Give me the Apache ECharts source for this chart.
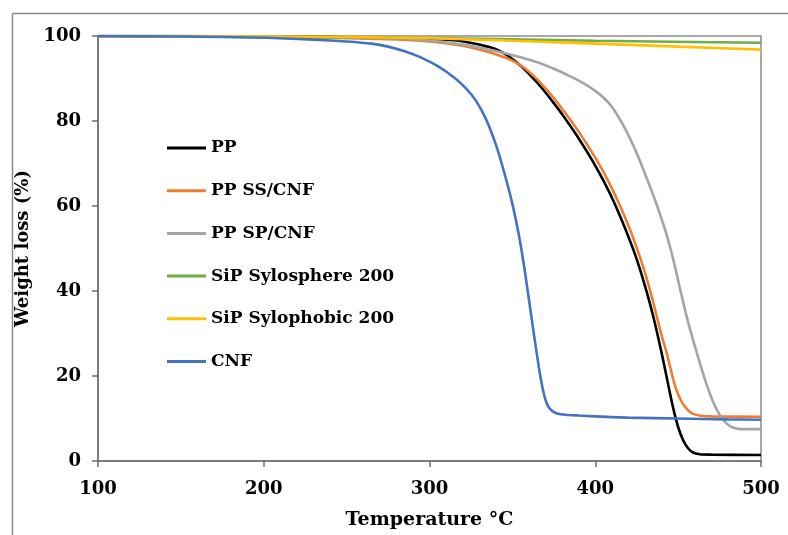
<!DOCTYPE html>
<html>
<head>
<meta charset="utf-8">
<title>TGA curves</title>
<script src="https://cdn.jsdelivr.net/npm/echarts@6/dist/echarts.min.js"></script>
<style>
  html, body { margin: 0; padding: 0; background: #ffffff; }
  #chart { width: 788px; height: 535px; }
</style>
</head>
<body>
<div id="chart"></div>
<script>
// Thermogravimetric curves: temperature (°C) against remaining weight (%)
const seriesNames = ['PP', 'PP SS/CNF', 'PP SP/CNF', 'SiP Sylosphere 200', 'SiP Sylophobic 200', 'CNF'];
const seriesColors = ['#000000', '#ED7D31', '#A5A5A5', '#70AD47', '#FFC000', '#4472C4'];

const xTicks = [100, 200, 300, 400, 500];
const yTicks = [0, 20, 40, 60, 80, 100];

const ppTemp   = [100, 200, 280, 300, 315, 322, 330, 335, 340, 345, 350, 355, 360, 365, 370, 375, 380, 385, 390, 395, 400, 405, 410, 415, 420, 425, 430, 435, 440, 444, 447, 450, 453, 456, 459, 463, 470, 500];
const ppWeight = [100, 99.9, 99.5, 99.3, 99.0, 98.6, 98.0, 97.5, 96.9, 95.9, 94.6, 93.0, 91.1, 89.0, 86.7, 84.2, 81.6, 78.8, 75.9, 72.8, 69.5, 65.9, 62.0, 57.6, 52.8, 47.5, 41.2, 34.0, 25.5, 18.0, 12.5, 8.0, 4.9, 3.0, 2.0, 1.6, 1.5, 1.4];

const ssTemp   = [100, 200, 280, 300, 315, 325, 335, 345, 350, 355, 360, 365, 370, 375, 380, 385, 390, 395, 400, 405, 410, 415, 420, 425, 430, 434, 437, 440, 443, 445, 447, 449, 452, 455, 459, 465, 470, 500];
const ssWeight = [100, 99.9, 99.2, 98.7, 98.0, 97.3, 96.3, 95.0, 94.2, 93.1, 91.6, 89.8, 87.7, 85.4, 82.9, 80.3, 77.5, 74.5, 71.4, 68.0, 64.2, 60.0, 55.4, 50.2, 44.3, 38.8, 34.2, 29.6, 25.6, 22.4, 19.3, 16.7, 14.0, 12.4, 11.1, 10.6, 10.5, 10.4];

const spTemp   = [100, 200, 280, 300, 320, 335, 345, 355, 365, 375, 385, 395, 402, 408, 413, 418, 423, 428, 433, 438, 443, 447, 451, 455, 459, 463, 467, 471, 475, 479, 483, 488, 500];
const spWeight = [100, 99.9, 99.4, 98.9, 98.0, 96.9, 96.0, 95.0, 93.8, 92.3, 90.5, 88.4, 86.5, 84.3, 81.6, 78.2, 74.2, 69.6, 64.6, 59.3, 53.3, 47.5, 40.8, 34.2, 28.5, 23.2, 18.2, 14.0, 10.9, 8.9, 7.9, 7.5, 7.5];

const sphereTemp   = [100, 200, 300, 400, 500];
const sphereWeight = [100, 99.8, 99.5, 98.9, 98.4];

const phobicTemp   = [100, 200, 300, 400, 450, 500];
const phobicWeight = [100, 99.9, 99.5, 98.2, 97.5, 96.8];

const cnfTemp   = [100, 150, 200, 230, 250, 265, 275, 285, 295, 305, 315, 322, 328, 334, 340, 345, 350, 354, 357, 360, 363, 366, 368, 370, 372, 374, 377, 382, 390, 400, 420, 450, 480, 500];
const cnfWeight = [100, 99.9, 99.6, 99.15, 98.7, 98.2, 97.5, 96.4, 94.9, 92.9, 90.2, 87.7, 84.8, 80.5, 74.5, 68.0, 60.5, 53.0, 46.0, 38.0, 29.8, 22.0, 17.6, 14.4, 12.6, 11.8, 11.2, 10.9, 10.7, 10.5, 10.2, 10.0, 9.8, 9.7];

const temps   = [ppTemp, ssTemp, spTemp, sphereTemp, phobicTemp, cnfTemp];
const weights = [ppWeight, ssWeight, spWeight, sphereWeight, phobicWeight, cnfWeight];

const labelFont = 'DejaVu Serif';
const frameColor = '#8a8a8a';

const chart = echarts.init(document.getElementById('chart'), null, { renderer: 'canvas' });

const series = seriesNames.map((name, i) => ({
  name: name,
  type: 'line',
  data: temps[i].map((t, k) => [t, weights[i][k]]),
  smooth: 0.25,
  symbol: 'none',
  z: 2 + i,
  lineStyle: { color: seriesColors[i], width: 2.6 },
  itemStyle: { color: seriesColors[i] }
}));

chart.setOption({
  animation: false,
  backgroundColor: '#ffffff',
  // outer chart-area frame: top and left edges
  graphic: [
    { type: 'line', shape: { x1: 12.5, y1: 13.5, x2: 800, y2: 13.5 }, style: { stroke: frameColor, lineWidth: 1.5 }, silent: true },
    { type: 'line', shape: { x1: 12.5, y1: 13.5, x2: 12.5, y2: 560 }, style: { stroke: frameColor, lineWidth: 1.5 }, silent: true }
  ],
  grid: {
    left: 98, right: 27, top: 36, bottom: 73,
    show: true, borderColor: '#8c8c8c', borderWidth: 1.5, backgroundColor: 'transparent'
  },
  legend: {
    orient: 'vertical',
    left: 167, top: 138,
    padding: 0,
    itemWidth: 39, itemHeight: 3, itemGap: 22.7,
    icon: 'rect',
    selectedMode: false,
    data: seriesNames,
    textStyle: { fontFamily: labelFont, fontWeight: 'bold', fontSize: 17, color: '#000000', lineHeight: 20 }
  },
  xAxis: {
    type: 'value',
    min: xTicks[0], max: xTicks[xTicks.length - 1], interval: 100,
    name: 'Temperature °C',
    nameLocation: 'middle', nameGap: 50,
    nameTextStyle: { fontFamily: labelFont, fontWeight: 'bold', fontSize: 19, color: '#000000' },
    axisLine: { show: true, lineStyle: { color: '#6e6e6e', width: 1.5 } },
    axisTick: { show: true, inside: false, length: 6, lineStyle: { color: '#6e6e6e', width: 1.5 } },
    axisLabel: { margin: 19, fontFamily: labelFont, fontWeight: 'bold', fontSize: 18, color: '#000000' },
    splitLine: { show: false }
  },
  yAxis: {
    type: 'value',
    min: yTicks[0], max: yTicks[yTicks.length - 1], interval: 20,
    name: 'Weight loss (%)',
    nameLocation: 'middle', nameGap: 59,
    nameTextStyle: { fontFamily: labelFont, fontWeight: 'bold', fontSize: 18, color: '#000000' },
    axisLine: { show: true, lineStyle: { color: '#6e6e6e', width: 1.5 } },
    axisTick: { show: true, inside: false, length: 6, lineStyle: { color: '#6e6e6e', width: 1.5 } },
    axisLabel: { margin: 17, fontFamily: labelFont, fontWeight: 'bold', fontSize: 18, color: '#000000' },
    splitLine: { show: false }
  },
  series: series
});
</script>
</body>
</html>
